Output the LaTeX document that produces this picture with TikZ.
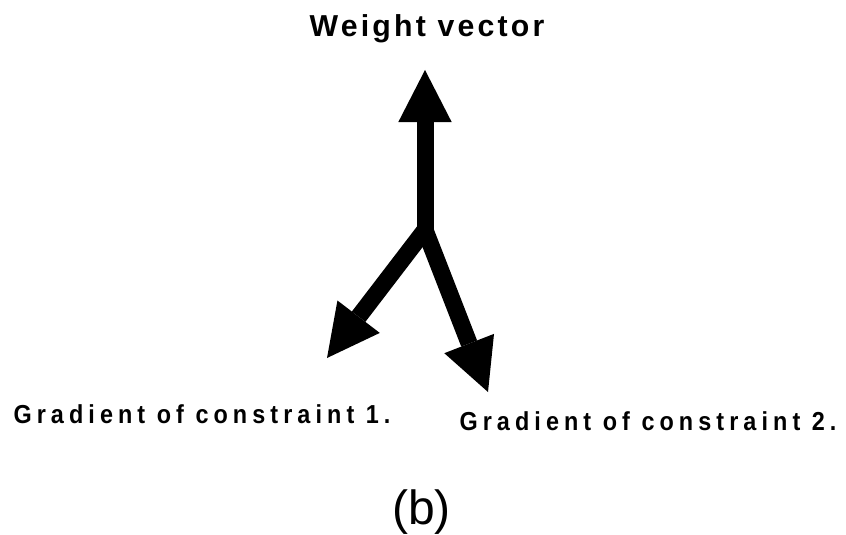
\documentclass[tikz,border=0pt]{standalone}
\usepackage{fontspec}
\setmainfont{Liberation Sans}
\newfontfamily\wvfont{Liberation Sans}[LetterSpace=10.6]
\newfontfamily\gradfont{Liberation Sans}[LetterSpace=19.5,FakeStretch=0.9]
\usetikzlibrary{arrows.meta}
\begin{document}
\begin{tikzpicture}[x=0.75pt,y=-0.75pt,
  vec/.style={line width=12.75pt,-{Triangle[length=39pt,width=40pt,line width=0pt]}},
  lbl/.style={anchor=base,inner sep=0pt}]
  \useasboundingbox (0,0) rectangle (846,535);
  \coordinate (junction) at (425,230);
  \coordinate (weighttip) at (425,70);
  \coordinate (gradonetip) at (327,358);
  \coordinate (gradtwotip) at (488,392);
  \draw[vec] (junction) -- (weighttip);
  \draw[vec] (junction) -- (gradonetip);
  \draw[vec] (junction) -- (gradtwotip);
  \node[lbl,font=\wvfont\bfseries\fontsize{22.7}{26}\selectfont] (weight) at (427,37) {Weight vector};
  \node[lbl,font=\gradfont\bfseries\fontsize{19.5}{22}\selectfont] (gradone) at (202,423) {Gradient of constraint 1.};
  \node[lbl,font=\gradfont\bfseries\fontsize{19.5}{22}\selectfont] (gradtwo) at (648,430) {Gradient of constraint 2.};
  \node[lbl,font=\fontsize{36}{40}\selectfont] (caption) at (421.5,524) {(b)};
\end{tikzpicture}
\end{document}
